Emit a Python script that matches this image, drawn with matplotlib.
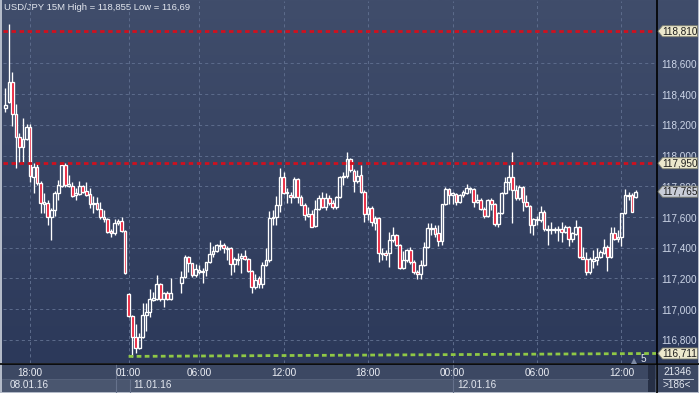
import numpy as np
import matplotlib
matplotlib.use("Agg")
import matplotlib.pyplot as plt
from matplotlib.patches import Rectangle, Polygon
from matplotlib.colors import LinearSegmentedColormap

W, H = 699, 393
nan = np.nan

TITLE = "USD/JPY 15M High = 118,855 Low = 116,69"

# 15-minute bars, 08.01.16 16:15 -> 12.01.16 13:00 (weekend skipped)
OPEN = [118.310, 118.349, 118.480, 118.271, 118.121, 118.056, 118.108, 118.187, 117.861, 117.926,
        117.822, 117.685, 117.691, 117.600, 117.646, 117.757, 117.802, 117.939, 117.802, 117.802,
        117.744, 117.750, 117.802, 117.770, 117.750, 117.685, 117.691, 117.652, 117.600, 117.587,
        117.509, 117.496, 117.561, 117.574, 117.509, 117.099, 116.955, 116.819, 116.747, 116.819,
        116.962, 116.981, 117.059, 117.066, 117.164, 117.066, 117.105, 117.066, nan, nan,
        117.170, 117.209, 117.340, 117.301, 117.222, 117.242, 117.242, 117.255, 117.307, 117.359,
        117.379, 117.411, 117.418, 117.398, 117.398, 117.294, 117.320, 117.333, 117.346, 117.327,
        117.248, 117.144, 117.203, 117.164, 117.288, 117.320, 117.594, 117.600, 117.678, 117.861,
        117.757, 117.744, 117.731, 117.848, 117.731, 117.678, 117.607, 117.620, 117.542, 117.652,
        117.724, 117.665, 117.724, 117.691, 117.665, 117.731, 117.861, 117.867, 117.978, 117.900,
        117.835, 117.874, 117.763, 117.620, 117.659, 117.561, 117.594, 117.359, 117.366, 117.366,
        117.451, 117.483, 117.418, 117.268, 117.320, 117.385, 117.307, 117.242, 117.229, 117.288,
        117.405, 117.522, 117.529, 117.496, 117.444, 117.685, 117.783, 117.744, 117.750, 117.698,
        117.744, 117.757, 117.783, 117.783, 117.698, 117.711, 117.652, 117.607, 117.711, 117.685,
        117.555, 117.626, 117.757, 117.828, 117.861, 117.776, 117.724, 117.796, 117.698, 117.672,
        117.548, 117.581, 117.581, 117.633, 117.516, 117.516, 117.516, 117.516, 117.522, 117.503,
        117.535, 117.457, 117.490, 117.535, 117.340, 117.327, 117.242, 117.314, 117.320, 117.340,
        117.366, 117.405, 117.340, 117.496, 117.457, 117.470, 117.626, 117.737, 117.744, 117.731]
HIGH = [118.441, 118.855, 118.545, 118.336, 118.148, 118.245, 118.206, 118.206, 117.952, 117.952,
        117.835, 117.757, 117.711, 117.659, 117.770, 117.841, 117.952, 117.952, 117.874, 117.828,
        117.789, 117.835, 117.809, 117.828, 117.789, 117.737, 117.731, 117.698, 117.646, 117.594,
        117.522, 117.587, 117.587, 117.600, 117.516, 117.105, 116.962, 116.903, 116.845, 117.040,
        117.040, 117.131, 117.112, 117.222, 117.170, 117.112, 117.118, 117.203, nan, nan,
        117.248, 117.353, 117.346, 117.301, 117.294, 117.288, 117.268, 117.307, 117.437, 117.411,
        117.424, 117.451, 117.431, 117.411, 117.405, 117.340, 117.366, 117.366, 117.385, 117.333,
        117.255, 117.229, 117.216, 117.307, 117.398, 117.639, 117.646, 117.737, 117.919, 117.893,
        117.789, 117.763, 117.861, 117.854, 117.744, 117.691, 117.665, 117.646, 117.711, 117.744,
        117.763, 117.757, 117.744, 117.711, 117.737, 117.867, 117.893, 118.024, 117.985, 117.913,
        117.906, 117.939, 117.776, 117.672, 117.672, 117.607, 117.600, 117.398, 117.385, 117.503,
        117.535, 117.490, 117.424, 117.379, 117.392, 117.405, 117.320, 117.255, 117.320, 117.437,
        117.561, 117.561, 117.548, 117.548, 117.685, 117.796, 117.789, 117.763, 117.757, 117.750,
        117.776, 117.815, 117.796, 117.789, 117.750, 117.724, 117.665, 117.718, 117.724, 117.691,
        117.633, 117.763, 117.861, 117.939, 118.024, 117.809, 117.809, 117.802, 117.744, 117.678,
        117.594, 117.607, 117.672, 117.646, 117.548, 117.568, 117.535, 117.542, 117.568, 117.548,
        117.542, 117.503, 117.581, 117.542, 117.405, 117.372, 117.340, 117.385, 117.398, 117.385,
        117.457, 117.418, 117.535, 117.535, 117.516, 117.626, 117.783, 117.763, 117.757, 117.776]
LOW = [118.284, 118.343, 118.193, 117.919, 117.959, 117.959, 118.102, 117.828, 117.757, 117.809,
       117.626, 117.626, 117.548, 117.451, 117.607, 117.711, 117.796, 117.796, 117.796, 117.731,
       117.711, 117.744, 117.757, 117.737, 117.659, 117.626, 117.646, 117.587, 117.568, 117.496,
       117.470, 117.483, 117.548, 117.503, 117.229, 116.949, 116.690, 116.714, 116.740, 116.812,
       116.858, 116.949, 117.053, 117.059, 117.053, 117.014, 117.059, 117.059, nan, nan,
       117.105, 117.203, 117.242, 117.209, 117.209, 117.229, 117.170, 117.216, 117.301, 117.340,
       117.372, 117.385, 117.366, 117.320, 117.222, 117.242, 117.288, 117.235, 117.320, 117.242,
       117.105, 117.131, 117.138, 117.138, 117.281, 117.307, 117.548, 117.548, 117.633, 117.750,
       117.691, 117.691, 117.724, 117.691, 117.678, 117.581, 117.600, 117.535, 117.535, 117.646,
       117.659, 117.646, 117.678, 117.652, 117.652, 117.724, 117.809, 117.854, 117.893, 117.763,
       117.822, 117.757, 117.568, 117.581, 117.542, 117.516, 117.307, 117.320, 117.320, 117.275,
       117.437, 117.411, 117.261, 117.261, 117.307, 117.294, 117.229, 117.196, 117.196, 117.281,
       117.398, 117.483, 117.470, 117.411, 117.418, 117.678, 117.685, 117.685, 117.678, 117.691,
       117.731, 117.750, 117.757, 117.665, 117.691, 117.646, 117.594, 117.600, 117.646, 117.542,
       117.535, 117.620, 117.750, 117.776, 117.561, 117.711, 117.711, 117.639, 117.665, 117.496,
       117.483, 117.548, 117.568, 117.509, 117.418, 117.490, 117.496, 117.444, 117.437, 117.496,
       117.411, 117.437, 117.483, 117.333, 117.327, 117.222, 117.229, 117.268, 117.288, 117.333,
       117.359, 117.248, 117.333, 117.451, 117.437, 117.411, 117.620, 117.711, 117.633, 117.724]
CLOSE = [118.330, 118.480, 118.271, 118.121, 118.056, 118.108, 118.187, 117.867, 117.926, 117.822,
         117.691, 117.698, 117.600, 117.646, 117.757, 117.809, 117.939, 117.809, 117.815, 117.737,
         117.757, 117.802, 117.763, 117.744, 117.685, 117.691, 117.652, 117.600, 117.587, 117.503,
         117.496, 117.561, 117.574, 117.509, 117.235, 116.955, 116.819, 116.747, 116.819, 116.962,
         116.981, 117.066, 117.072, 117.164, 117.066, 117.105, 117.066, 117.105, nan, nan,
         117.209, 117.340, 117.301, 117.222, 117.261, 117.255, 117.248, 117.307, 117.359, 117.379,
         117.418, 117.418, 117.398, 117.392, 117.294, 117.327, 117.327, 117.346, 117.327, 117.248,
         117.144, 117.190, 117.164, 117.288, 117.320, 117.594, 117.600, 117.678, 117.861, 117.757,
         117.763, 117.731, 117.848, 117.731, 117.678, 117.613, 117.620, 117.535, 117.652, 117.724,
         117.665, 117.724, 117.691, 117.665, 117.731, 117.861, 117.867, 117.978, 117.906, 117.835,
         117.867, 117.763, 117.620, 117.659, 117.568, 117.594, 117.366, 117.366, 117.353, 117.451,
         117.483, 117.418, 117.268, 117.320, 117.385, 117.307, 117.242, 117.229, 117.288, 117.405,
         117.529, 117.529, 117.490, 117.444, 117.685, 117.783, 117.744, 117.757, 117.698, 117.744,
         117.763, 117.789, 117.789, 117.698, 117.711, 117.652, 117.607, 117.711, 117.685, 117.555,
         117.626, 117.757, 117.828, 117.861, 117.776, 117.724, 117.796, 117.698, 117.672, 117.548,
         117.587, 117.587, 117.633, 117.522, 117.522, 117.522, 117.522, 117.522, 117.503, 117.535,
         117.457, 117.496, 117.535, 117.340, 117.327, 117.242, 117.327, 117.327, 117.340, 117.372,
         117.405, 117.340, 117.496, 117.457, 117.470, 117.626, 117.744, 117.744, 117.633, 117.765]

TIME_BARS = [7, 35, 55, 79, 103, 127, 151, 175]
TIME_LABELS = ["18:00", "01:00", "06:00", "12:00", "18:00", "00:00", "06:00", "12:00"]
DATE_BARS = [1.3, 36.3, 128.3]
DATE_LABELS = ["08.01.16", "11.01.16", "12.01.16"]
PRICE_TICKS = [116.8, 117.0, 117.2, 117.4, 117.6, 117.8, 118.0, 118.2, 118.4, 118.6]
RED_LEVELS = [118.810, 117.950]
TREND_START = 35
TREND_PRICES = [116.692, 116.711]
LAST_PRICE = 117.765
FOOT_TOP, FOOT_BOTTOM = "21346", ">186<"

# look
BG_TOP, BG_BOT = "#404d6b", "#2c395a"
GRID = "#5d6c8c"
BEAR = "#e8102c"
WICK = "white"
FONT = "Liberation Sans"
XLIM = (-0.68, 184.8)
YLIM = (116.649, 119.007)

plt.rcParams["lines.scale_dashes"] = False
plt.rcParams["font.family"] = FONT

fig = plt.figure(figsize=(W / 100, H / 100), dpi=100, facecolor="#b3bac8")


def box(x0, y0, x1, y1):
    return [x0 / W, 1 - y1 / H, (x1 - x0) / W, (y1 - y0) / H]


# canvas in pixel units for the chrome
cv = fig.add_axes([0, 0, 1, 1], zorder=-1)
grad = np.linspace(0, 1, 256)[:, None]
cmap = LinearSegmentedColormap.from_list("bg", [BG_TOP, BG_BOT])
cv.imshow(grad, extent=[2, 698, 363, 0], aspect="auto", cmap=cmap, interpolation="bilinear")
cv.add_patch(Rectangle((2, 364), 654, 15, color="#3c4863", lw=0))
cv.add_patch(Rectangle((2, 379), 654, 13, color="#4a566f", lw=0))
cv.add_patch(Rectangle((648, 365), 7, 27, color="#262f45", lw=0))
cv.add_patch(Rectangle((657, 364), 41, 28, color="#3c4863", lw=0))
cv.plot([115.5, 115.5], [364, 392], color="#66728c", lw=0.8)
cv.plot([129.5, 129.5], [379, 392], color="#66728c", lw=0.8)
cv.plot([452.5, 452.5], [364, 392], color="#66728c", lw=0.8)
cv.plot([2, 648], [379, 379], color="#56627c", lw=0.6)
cv.plot([663, 693], [378.5, 378.5], color="#b8c0d0", lw=0.7)
cv.plot([656.5, 656.5], [0, 393], color="black", lw=1.2)
cv.plot([0, 699], [363.5, 363.5], color="black", lw=1.2)
cv.text(677, 372, FOOT_TOP, color="#e4e8f0", fontsize=7.2, ha="center", va="center")
cv.text(677, 385, FOOT_BOTTOM, color="#e4e8f0", fontsize=7.2, ha="center", va="center")
cv.text(4, 8, TITLE, color="#e2e6ee", fontsize=6.8, ha="left", va="center")
cv.plot([634], [361], marker="^", ms=4, color="#7d8aa3", mew=0)
cv.text(643, 358.5, "5", color="#e4e8f0", fontsize=7.2, ha="center", va="center")
cv.set_xlim(0, W)
cv.set_ylim(H, 0)
cv.axis("off")

# main price panel
ax = fig.add_axes(box(3, 1, 656, 363))
ax.set_facecolor("none")
for s in ax.spines.values():
    s.set_visible(False)
ax.set_xlim(*XLIM)
ax.set_ylim(*YLIM)
ax.set_xticks(TIME_BARS, TIME_LABELS)
ax.set_yticks(PRICE_TICKS, [f"{v:.3f}".replace(".", ",") for v in PRICE_TICKS])
ax.yaxis.tick_right()
ax.tick_params(axis="x", length=0, pad=3.5, labelsize=7.2, labelcolor="#eef0f6")
ax.tick_params(axis="y", length=0, pad=3.5, labelsize=7.2, labelcolor="#cdd6e8")
ax.grid(True, color=GRID, ls=(0, (2.2, 2.2)), lw=0.7, zorder=1)

for lab, pos in zip(DATE_LABELS, DATE_BARS):
    ax.text(pos, -0.061, lab, transform=ax.get_xaxis_transform(), fontsize=7.2,
            color="#e4e8f0", ha="left", va="center", clip_on=False)

body_w = 0.78
for i, (o, h, l, c) in enumerate(zip(OPEN, HIGH, LOW, CLOSE)):
    if np.isnan(o):
        continue
    top, bot = max(o, c), min(o, c)
    ax.vlines(i, top, h, color=WICK, lw=0.95, zorder=3)
    ax.vlines(i, l, bot, color=WICK, lw=0.95, zorder=3)
    face = BEAR if c < o else "none"
    ax.add_patch(Rectangle((i - body_w / 2, bot), body_w, top - bot, facecolor=face,
                           edgecolor=WICK, lw=0.95, zorder=3))

for lv in RED_LEVELS:
    ax.axhline(lv, color="#d0101e", lw=2.0, ls=(0, (3.2, 2.6)), zorder=4)
ax.plot([TREND_START, XLIM[1]], TREND_PRICES, color="#8fc846", lw=2.0,
        ls=(0, (3.4, 2.4)), zorder=4)

# price tags on the right scale
rax = fig.add_axes(box(657, 1, 699, 363))
rax.set_xlim(0, 42)
rax.set_ylim(*YLIM)
rax.axis("off")
px = (YLIM[1] - YLIM[0]) / 362.0
tags = [(RED_LEVELS[0], "#ece8cc"), (RED_LEVELS[1], "#ece8cc"),
        (LAST_PRICE, "#c9cdd8"), (TREND_PRICES[1], "#ece8cc")]
for p, col in tags:
    hh = 5.5 * px
    rax.add_patch(Polygon([(1, p), (5.5, p + hh), (40.5, p + hh), (40.5, p - hh), (5.5, p - hh)],
                          closed=True, facecolor=col, edgecolor="#7e8070", lw=0.6))
    rax.text(23, p, f"{p:.3f}".replace(".", ","), fontsize=7.2, color="#1c1c1c",
             ha="center", va="center")

fig.savefig("out.png", dpi=100, facecolor=fig.get_facecolor())
